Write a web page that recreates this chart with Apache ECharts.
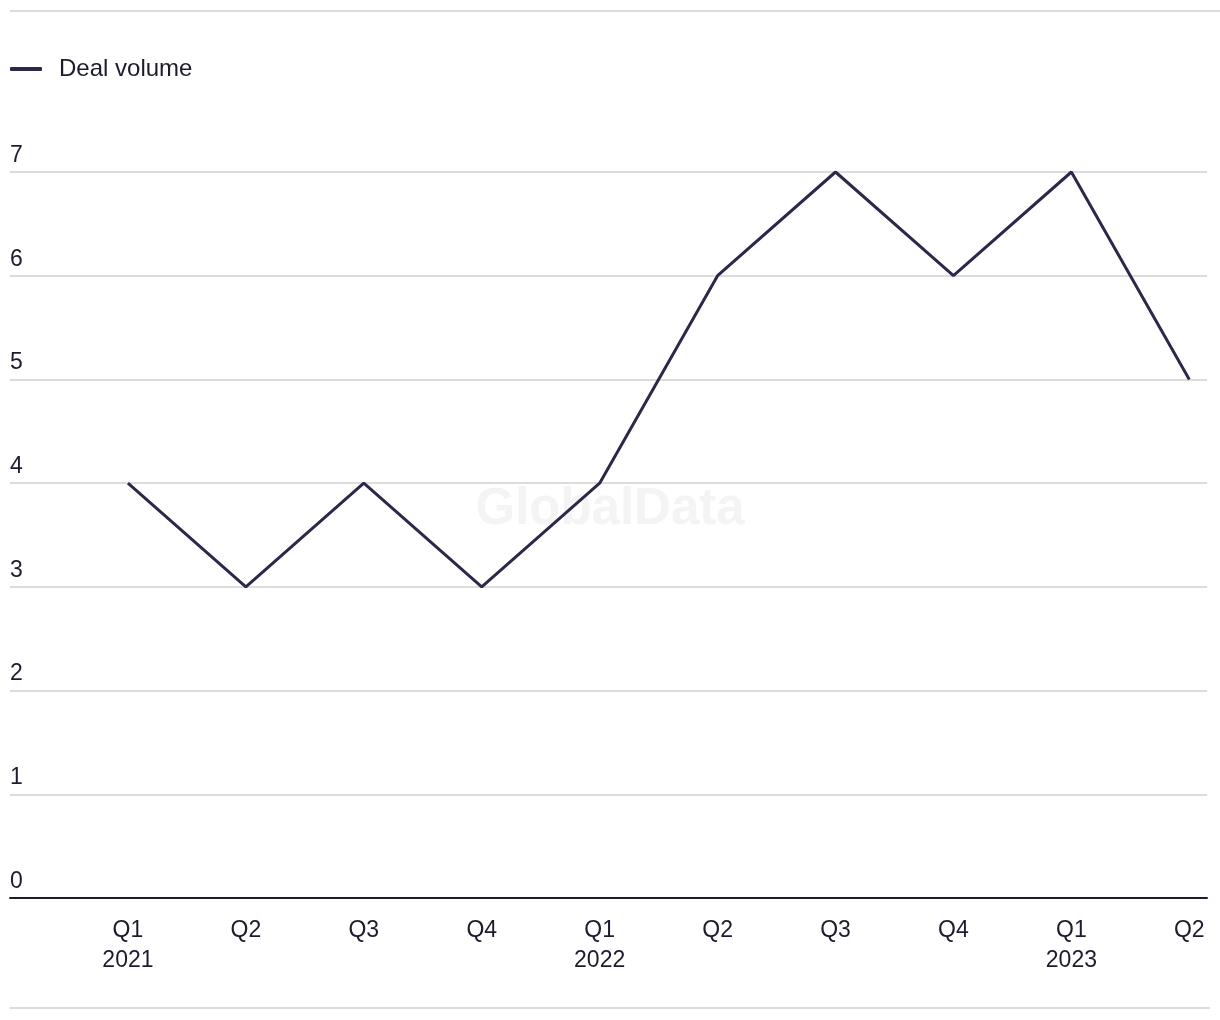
<!DOCTYPE html>
<html>
<head>
<meta charset="utf-8">
<style>
    html,body{margin:0;padding:0;background:#fff;}
    #dealVolumeChart{width:1220px;height:1020px;}
</style>
<script src="https://cdn.jsdelivr.net/npm/echarts@6/dist/echarts.min.js"></script>
</head>
<body>
<div id="dealVolumeChart"></div>
<script>
    // quarters and deal counts
    var quarters = ['Q1','Q2','Q3','Q4','Q1','Q2','Q3','Q4','Q1','Q2'];
    var years = ['2021','','','','2022','','','','2023',''];
    var dealVolume = [4,3,4,3,4,6,7,6,7,5];
    var yTicks = [0,1,2,3,4,5,6,7];

    var lineColor = '#2b2849';
    var textColor = '#1d1b2e';
    var fontFamily = "'Liberation Sans', Arial, sans-serif";

    var points = [];
    for(var i=0;i<dealVolume.length;i++){
        points.push([i,dealVolume[i]]);
    }

    var chart = echarts.init(document.getElementById('dealVolumeChart'));
    var option = {
        animation:false,
        textStyle:{fontFamily:fontFamily},
        legend:{
            left:10,
            top:57,
            padding:0,
            icon:'roundRect',
            itemWidth:32,
            itemHeight:4,
            textStyle:{fontSize:24,color:textColor,padding:[0,0,0,12],fontFamily:fontFamily},
            data:['Deal volume']
        },
        grid:{left:10,right:13,top:172,bottom:122,containLabel:false},
        xAxis:{
            type:'value',
            min:-1,
            max:9.15,
            interval:1,
            splitLine:{show:false},
            axisTick:{show:false},
            axisLine:{show:true,lineStyle:{color:textColor,width:2}},
            axisLabel:{
                margin:18,
                fontSize:23,
                lineHeight:30,
                color:textColor,
                showMinLabel:false,
                showMaxLabel:false,
                formatter:function(v){
                    if(v<0||v!==Math.round(v)||v>=quarters.length) return '';
                    return years[v] ? quarters[v]+'\n'+years[v] : quarters[v];
                }
            }
        },
        yAxis:{
            type:'value',
            min:yTicks[0],
            max:yTicks[yTicks.length-1],
            interval:1,
            axisLine:{show:false},
            axisTick:{show:false},
            splitLine:{show:true,lineStyle:{color:'#dcdcdc',width:2}},
            axisLabel:{
                inside:true,
                margin:0,
                fontSize:23,
                color:textColor,
                verticalAlign:'bottom',
                padding:[0,0,5,0],
                showMinLabel:true
            }
        },
        graphic:[
            {type:'line',shape:{x1:10,y1:11,x2:1220,y2:11},style:{stroke:'#dcdcdc',lineWidth:2},silent:true},
            {type:'line',shape:{x1:10,y1:1008,x2:1210,y2:1008},style:{stroke:'#dcdcdc',lineWidth:2},silent:true},
            {type:'text',left:'center',top:484,z:-10,silent:true,
                style:{text:'GlobalData',font:"bold 51px 'Liberation Sans', Arial, sans-serif",fill:'#f4f4f4'}}
        ],
        series:[{
            name:'Deal volume',
            type:'line',
            symbol:'none',
            itemStyle:{color:lineColor},
            lineStyle:{color:lineColor,width:3},
            data:points
        }]
    };
    chart.setOption(option);
</script>
</body>
</html>
